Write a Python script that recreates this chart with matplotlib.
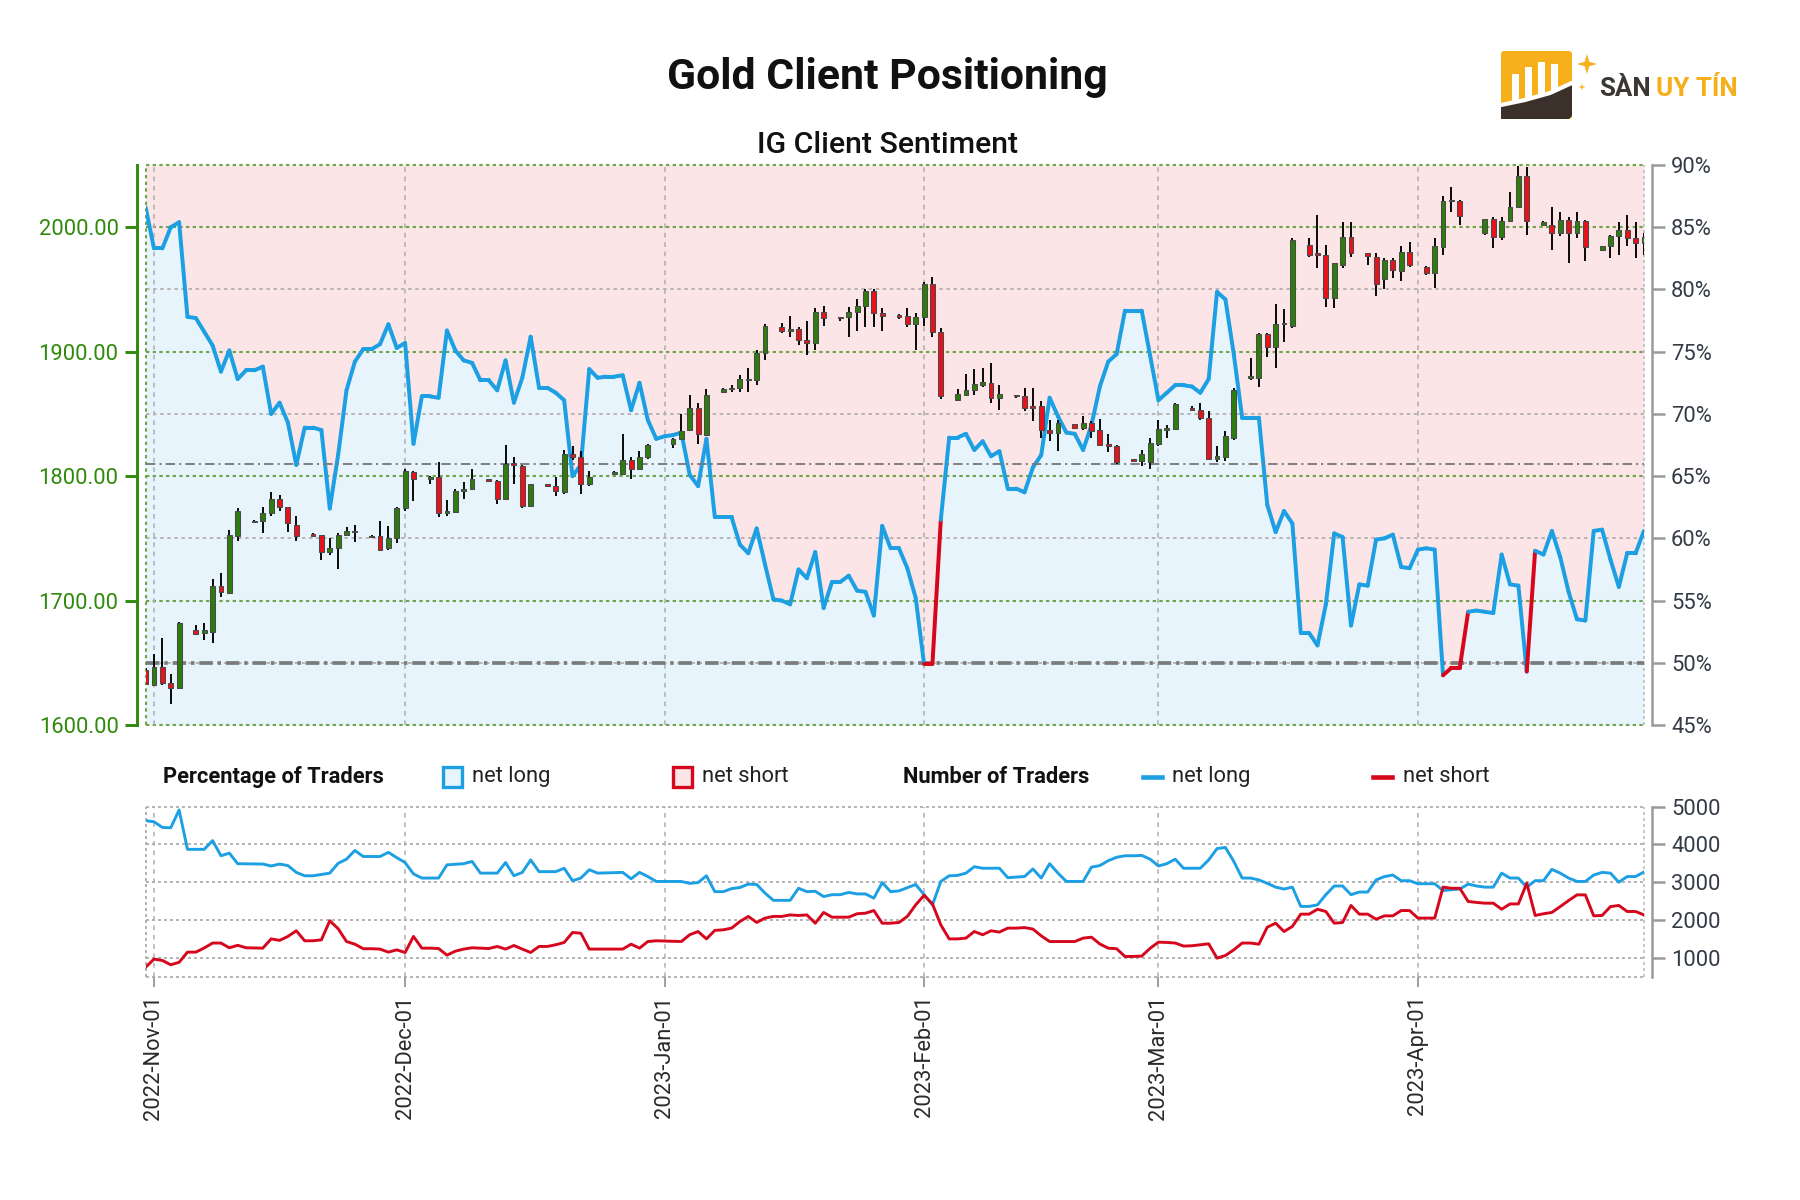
import numpy as np
import pandas as pd
import matplotlib
matplotlib.use("Agg")
import matplotlib.pyplot as plt
import matplotlib.dates as mdates
from matplotlib.collections import LineCollection
from matplotlib.patches import Rectangle, FancyBboxPatch, Polygon
from matplotlib.lines import Line2D

plt.rcParams['font.family'] = ['Roboto', 'DejaVu Sans']

# ---- data -------------------------------------------------------------
# candles: day offset from 2022-11-01 (Sunday bars included)
candle_day = [-1, 0, 1, 2, 3,
              5, 6, 7, 8, 9, 10,
              12, 13, 14, 15, 16, 17,
              19, 20, 21, 22, 23, 24,
              26, 27, 28, 29, 30, 31,
              33, 34, 35, 36, 37, 38,
              40, 41, 42, 43, 44, 45,
              47, 48, 49, 50, 51, 52,
              55, 56, 57, 58, 59,
              62, 63, 64, 65, 66,
              68, 69, 70, 71, 72, 73,
              75, 76, 77, 78, 79, 80,
              82, 83, 84, 85, 86, 87,
              89, 90, 91, 92, 93, 94,
              96, 97, 98, 99, 100, 101,
              103, 104, 105, 106, 107, 108,
              110, 111, 112, 113, 114, 115,
              117, 118, 119, 120, 121, 122,
              124, 125, 126, 127, 128, 129,
              131, 132, 133, 134, 135, 136,
              138, 139, 140, 141, 142, 143,
              145, 146, 147, 148, 149, 150,
              152, 153, 154, 155, 156,
              159, 160, 161, 162, 163, 164,
              166, 167, 168, 169, 170, 171,
              173, 174, 175, 176, 177, 178]
candle_open = [1644, 1632, 1647, 1634, 1630,
               1676, 1674, 1675, 1712, 1706, 1752,
               1764, 1764, 1770, 1782, 1775, 1761,
               1753, 1753, 1739, 1742, 1753, 1756,
               1752, 1752, 1742, 1750, 1774, 1803,
               1798, 1799, 1770, 1771, 1788, 1790,
               1798, 1796, 1782, 1810, 1808, 1776,
               1794, 1792, 1787, 1818, 1815, 1794,
               1802, 1802, 1813, 1806, 1815,
               1826, 1830, 1837, 1855, 1833,
               1868, 1870, 1871, 1877, 1877, 1899,
               1920, 1917, 1918, 1909, 1907, 1932,
               1928, 1928, 1932, 1937, 1949, 1931,
               1929, 1929, 1922, 1928, 1954, 1916,
               1861, 1865, 1869, 1873, 1875, 1863,
               1865, 1864, 1856, 1856, 1837, 1835,
               1842, 1839, 1843, 1837, 1826, 1824,
               1814, 1812, 1811, 1826, 1837, 1838,
               1855, 1853, 1847, 1814, 1815, 1831,
               1879, 1879, 1914, 1904, 1922, 1921,
               1986, 1979, 1978, 1943, 1970, 1992,
               1979, 1976, 1958, 1974, 1965, 1980,
               1968, 1963, 1984, 2021, 2021,
               1995, 2007, 1992, 2005, 2016, 2041,
               2002, 2002, 1995, 2006, 1995, 2005,
               1982, 1985, 1993, 1998, 1991, 1987]
candle_high = [1646, 1657, 1670, 1641, 1683,
               1680, 1682, 1717, 1722, 1757, 1774,
               1765, 1775, 1787, 1785, 1775, 1768,
               1754, 1753, 1750, 1754, 1759, 1761,
               1753, 1764, 1760, 1775, 1806, 1804,
               1800, 1811, 1781, 1790, 1795, 1806,
               1798, 1797, 1825, 1815, 1809, 1794,
               1794, 1799, 1821, 1824, 1820, 1804,
               1804, 1834, 1815, 1820, 1826,
               1831, 1850, 1865, 1859, 1870,
               1871, 1873, 1881, 1887, 1901, 1922,
               1923, 1929, 1920, 1925, 1935, 1937,
               1928, 1936, 1942, 1950, 1950, 1935,
               1930, 1935, 1931, 1956, 1960, 1919,
               1870, 1882, 1886, 1887, 1891, 1873,
               1865, 1871, 1871, 1860, 1845, 1845,
               1842, 1848, 1844, 1846, 1834, 1825,
               1814, 1821, 1831, 1845, 1841, 1859,
               1856, 1859, 1852, 1824, 1836, 1871,
               1895, 1915, 1915, 1938, 1934, 1991,
               1991, 2010, 1986, 1971, 2004, 2004,
               1979, 1979, 1975, 1975, 1985, 1988,
               1969, 1991, 2025, 2032, 2022,
               2007, 2008, 2008, 2028, 2049, 2048,
               2005, 2016, 2012, 2008, 2012, 2006,
               1985, 1994, 2004, 2010, 2004, 1995]
candle_low = [1632, 1632, 1632, 1617, 1630,
              1672, 1668, 1666, 1703, 1705, 1748,
              1762, 1754, 1768, 1772, 1755, 1748,
              1751, 1733, 1737, 1725, 1752, 1747,
              1750, 1740, 1741, 1746, 1772, 1780,
              1794, 1767, 1768, 1770, 1782, 1789,
              1795, 1778, 1781, 1794, 1774, 1775,
              1791, 1784, 1786, 1813, 1786, 1792,
              1801, 1801, 1798, 1805, 1814,
              1823, 1829, 1836, 1826, 1832,
              1867, 1868, 1868, 1868, 1873, 1893,
              1915, 1912, 1905, 1897, 1901, 1921,
              1925, 1912, 1917, 1920, 1920, 1917,
              1926, 1920, 1901, 1921, 1912, 1862,
              1861, 1864, 1865, 1872, 1859, 1853,
              1863, 1852, 1844, 1831, 1828, 1820,
              1839, 1837, 1831, 1824, 1819, 1810,
              1812, 1808, 1806, 1824, 1831, 1837,
              1852, 1845, 1813, 1811, 1812, 1829,
              1877, 1872, 1896, 1887, 1908, 1919,
              1976, 1967, 1936, 1935, 1967, 1976,
              1970, 1945, 1950, 1959, 1957, 1968,
              1962, 1951, 1978, 2012, 2002,
              1994, 1983, 1990, 2004, 2016, 1994,
              2001, 1982, 1993, 1971, 1991, 1973,
              1982, 1975, 1978, 1985, 1975, 1978]
candle_close = [1633, 1647, 1634, 1630, 1682,
                1673, 1676, 1712, 1707, 1753, 1772,
                1763, 1770, 1782, 1775, 1762, 1752,
                1752, 1739, 1742, 1753, 1756, 1755,
                1751, 1741, 1750, 1774, 1804, 1798,
                1799, 1770, 1772, 1788, 1790, 1798,
                1796, 1782, 1810, 1809, 1776, 1794,
                1792, 1788, 1818, 1815, 1794, 1799,
                1803, 1813, 1806, 1815, 1825,
                1830, 1836, 1855, 1834, 1865,
                1870, 1871, 1878, 1878, 1899, 1921,
                1917, 1918, 1909, 1907, 1932, 1927,
                1927, 1932, 1937, 1949, 1931, 1929,
                1928, 1922, 1928, 1954, 1916, 1864,
                1866, 1869, 1874, 1876, 1863, 1866,
                1864, 1855, 1855, 1837, 1835, 1843,
                1839, 1843, 1836, 1825, 1824, 1811,
                1812, 1818, 1827, 1838, 1839, 1858,
                1853, 1847, 1814, 1816, 1832, 1869,
                1879.5, 1914, 1904, 1922, 1923, 1990,
                1978, 1978, 1943, 1971, 1992, 1979,
                1977, 1954, 1974, 1966, 1980, 1970,
                1963, 1985, 2021, 2021, 2009,
                2007, 1992, 2005, 2016, 2041, 2005,
                2004, 1995, 2006, 1995, 2005, 1984,
                1985, 1993, 1998, 1991, 1987, 1992]

# % of traders net long, daily from 2022-10-31 to 2023-04-28
pct_long = [86.6, 83.3, 83.3, 85.0, 85.4, 77.8, 77.7, 76.6, 75.5, 73.4, 75.1,
            72.8, 73.5, 73.5, 73.8, 70.0, 70.9, 69.3, 65.9, 68.9, 68.9,
            68.7, 62.4, 66.7, 71.9, 74.2, 75.2, 75.2, 75.6, 77.2, 75.3,
            75.7, 67.6, 71.4, 71.4, 71.3, 76.7, 75.1, 74.3, 74.1, 72.7,
            72.7, 71.9, 74.3, 70.9, 72.9, 76.2, 72.1, 72.1, 71.7, 71.1,
            65.0, 65.9, 73.6, 72.9, 73.0, 73.0, 73.1, 70.3, 72.5, 69.5,
            68.0, 68.2, 68.3, 68.5, 65.1, 64.2, 68.0, 61.7, 61.7, 61.7,
            59.5, 58.8, 60.8, 57.9, 55.1, 55.0, 54.7, 57.5, 56.8, 58.9,
            54.4, 56.5, 56.5, 57.0, 55.8, 55.7, 53.8, 61.0, 59.2, 59.2,
            57.6, 55.2, 49.9, 49.9, 61.5, 68.1, 68.1, 68.4, 67.1, 67.8,
            66.6, 67.0, 64.0, 64.0, 63.7, 65.7, 66.7, 71.3, 69.8, 68.5,
            68.4, 67.1, 69.1, 72.2, 74.2, 74.8, 78.3, 78.3, 78.3, 74.7,
            71.1, 71.7, 72.3, 72.3, 72.2, 71.7, 72.8, 79.8, 79.2, 74.8,
            69.7, 69.7, 69.7, 62.7, 60.5, 62.2, 61.2, 52.4, 52.4, 51.4,
            54.7, 60.4, 60.1, 53.0, 56.3, 56.2, 59.9, 60.0, 60.3, 57.7,
            57.6, 59.1, 59.2, 59.1, 49.0, 49.6, 49.6, 54.1, 54.2, 54.1,
            54.0, 58.7, 56.3, 56.2, 49.3, 59.0, 58.7, 60.6, 58.5, 55.7,
            53.5, 53.4, 60.6, 60.7, 58.3, 56.1, 58.8, 58.8, 60.6]

# number of traders (day offset from 2022-11-01)
long_day = [-1, 0, 1, 2, 3, 4, 6, 7, 8, 9, 10, 13, 14, 15, 16, 17, 18, 19, 21, 22,
            23, 24, 25, 27, 28, 29, 30, 31, 32, 34, 35, 37, 38, 39, 41, 42, 43, 44, 45, 46,
            48, 49, 50, 51, 52, 53, 56, 57, 58, 59, 60, 63, 64, 65, 66, 67, 68, 69, 70, 71,
            72, 73, 74, 76, 77, 78, 79, 80, 81, 82, 83, 84, 85, 86, 87, 88, 89, 91, 92, 93,
            94, 95, 96, 97, 98, 99, 101, 102, 104, 105, 106, 107, 108, 109, 111, 112, 113, 114, 115, 116,
            117, 118, 119, 120, 121, 122, 123, 125, 126, 127, 128, 129, 130, 131, 132, 133, 134, 135, 136, 137,
            138, 139, 140, 141, 142, 143, 144, 145, 146, 147, 148, 149, 150, 151, 153, 154, 155, 156, 157, 158,
            159, 160, 161, 162, 163, 164, 165, 166, 167, 168, 169, 170, 171, 172, 173, 174, 175, 176, 177, 178]
long_count = [4630, 4600, 4450, 4440, 4910, 3870, 3870, 4100, 3700, 3770, 3490, 3480, 3430, 3480, 3440, 3260, 3170, 3170, 3240, 3500,
              3610, 3840, 3680, 3680, 3790, 3650, 3520, 3220, 3110, 3110, 3460, 3490, 3550, 3240, 3240, 3520, 3170, 3260, 3590, 3280,
              3280, 3370, 3040, 3110, 3330, 3240, 3260, 3090, 3260, 3150, 3020, 3020, 2970, 2990, 3170, 2750, 2750, 2830, 2860, 2950,
              2940, 2710, 2520, 2520, 2840, 2750, 2760, 2620, 2670, 2670, 2730, 2690, 2690, 2580, 2990, 2750, 2770, 2940, 2670, 2400,
              3020, 3170, 3180, 3240, 3410, 3370, 3370, 3120, 3150, 3350, 3110, 3490, 3240, 3020, 3020, 3400, 3440, 3570, 3660, 3700,
              3700, 3710, 3610, 3430, 3490, 3610, 3370, 3370, 3590, 3890, 3920, 3550, 3110, 3110, 3060, 2970, 2870, 2820, 2870, 2360,
              2360, 2400, 2670, 2900, 2900, 2670, 2740, 2740, 3060, 3150, 3190, 3040, 3040, 2960, 2960, 2780, 2800, 2820, 2950, 2900,
              2870, 2870, 3240, 3110, 3110, 2870, 3040, 3040, 3340, 3240, 3110, 3020, 3020, 3190, 3260, 3240, 3000, 3150, 3150, 3270]

short_day = [-1, 0, 1, 2, 3, 4, 5, 6, 7, 8, 9, 10, 11, 13, 14, 15, 16, 17, 18, 19,
             20, 21, 22, 23, 24, 25, 26, 27, 28, 29, 30, 31, 32, 33, 34, 35, 36, 37, 38, 39,
             40, 41, 42, 43, 44, 45, 46, 47, 48, 49, 50, 51, 52, 53, 54, 56, 57, 58, 59, 60,
             63, 64, 65, 66, 67, 68, 69, 70, 71, 72, 73, 74, 75, 76, 77, 78, 79, 80, 81, 82,
             83, 84, 85, 86, 87, 88, 89, 90, 91, 92, 93, 94, 95, 96, 97, 98, 99, 100, 101, 102,
             103, 104, 105, 106, 107, 108, 109, 110, 111, 112, 113, 114, 115, 116, 117, 118, 119, 120, 121, 122,
             123, 124, 125, 126, 127, 128, 129, 130, 131, 132, 133, 134, 135, 136, 137, 138, 139, 140, 141, 142,
             143, 144, 145, 146, 147, 148, 149, 150, 151, 152, 153, 154, 155, 156, 157, 158, 159, 160, 161, 162,
             163, 164, 165, 166, 167, 168, 169, 170, 171, 172, 173, 174, 175, 176, 177, 178]
short_count = [750, 965, 930, 815, 880, 1150, 1150, 1260, 1390, 1390, 1265, 1330, 1265, 1255, 1500, 1460, 1565, 1715, 1450, 1450,
               1475, 1980, 1770, 1430, 1360, 1240, 1240, 1230, 1150, 1210, 1140, 1565, 1255, 1255, 1245, 1070, 1175, 1230, 1265, 1255,
               1245, 1300, 1230, 1325, 1230, 1140, 1300, 1300, 1345, 1405, 1670, 1650, 1230, 1230, 1230, 1230, 1360, 1255, 1430, 1450,
               1430, 1610, 1695, 1500, 1725, 1740, 1785, 1960, 2095, 1935, 2050, 2095, 2095, 2135, 2120, 2135, 1915, 2200, 2075, 2075,
               2075, 2165, 2180, 2250, 1915, 1915, 1935, 2095, 2400, 2655, 2425, 1870, 1500, 1500, 1520, 1695, 1610, 1715, 1680, 1785,
               1785, 1800, 1760, 1580, 1430, 1430, 1430, 1430, 1520, 1545, 1365, 1255, 1240, 1035, 1035, 1045, 1250, 1414, 1406, 1390,
               1310, 1318, 1344, 1370, 990, 1060, 1210, 1390, 1390, 1360, 1810, 1915, 1695, 1830, 2155, 2155, 2285, 2225, 1915, 1935,
               2385, 2155, 2155, 2020, 2110, 2110, 2250, 2250, 2050, 2050, 2050, 2870, 2840, 2840, 2490, 2465, 2445, 2445, 2285, 2425,
               2425, 2975, 2120, 2165, 2200, 2355, 2515, 2665, 2665, 2110, 2120, 2355, 2385, 2225, 2225, 2135]

month_labels = ['2022-Nov-01', '2022-Dec-01', '2023-Jan-01',
                '2023-Feb-01', '2023-Mar-01', '2023-Apr-01']
price_ticks = [1600, 1700, 1800, 1900, 2000]
pct_ticks = [45, 50, 55, 60, 65, 70, 75, 80, 85, 90]
count_ticks = [1000, 2000, 3000, 4000, 5000]

# ---- colours ----------------------------------------------------------
BLUE = '#1c9fe3'
RED = '#d6061d'
GREEN_TXT = '#2f8a0c'
GRID_GREEN = '#6fa548'
GRID_GRAY = '#b5aeae'
VLINE = '#b0b0b0'
AX_GRAY = '#9a9a9a'
LBL = '#333b47'

base = mdates.date2num(pd.Timestamp('2022-11-01'))
x0 = mdates.date2num(pd.Timestamp('2022-10-31'))
x1 = mdates.date2num(pd.Timestamp('2023-04-28'))
months = mdates.date2num(pd.to_datetime(month_labels, format='%Y-%b-%d'))
pct_x = mdates.date2num(pd.date_range('2022-10-31', '2023-04-28', freq='D'))
pct = np.array(pct_long)

fig = plt.figure(figsize=(12, 8), dpi=150)
L, W = 0.0809, 0.8324

# ---- top panel ----------------------------------------------------------
ax = fig.add_axes([L, 0.3958, W, 0.4667])
ax2 = ax.twinx()
ax.set_zorder(ax2.get_zorder() + 1)
ax.patch.set_visible(False)
ax.set_xlim(x0, x1)
ax.set_ylim(1600, 2050)
ax2.set_ylim(45, 90)

ax2.fill_between(pct_x, 45, pct, color='#e7f4fc', lw=0, zorder=1)
ax2.fill_between(pct_x, pct, 90, color='#fbe5e6', lw=0, zorder=1)
for lvl in [50, 60, 70, 80]:
    ax2.axhline(lvl, color=GRID_GRAY, lw=0.85, ls=(0, (2, 2)), zorder=2)
for lvl in [45, 55, 65, 75, 85, 90]:
    ax2.axhline(lvl, color=GRID_GREEN, lw=1.0, ls=(0, (1.6, 1.6)), zorder=2, clip_on=False)
for m in months:
    ax2.axvline(m, color=VLINE, lw=0.75, ls=(0, (3, 3)), zorder=2)
ax2.axvline(x0, color=GRID_GREEN, lw=1.0, ls=(0, (1.6, 1.6)), zorder=2, clip_on=False)
ax2.axvline(x1, color='#c4c4c4', lw=0.9, ls=(0, (1.6, 1.6)), zorder=2, clip_on=False)
ax2.axhline(50, color='#7b7b7b', lw=1.8, ls=(0, (3.6, 1.3, 0.9, 1.3)), zorder=3)

pts = np.column_stack([pct_x, pct])
segs = np.stack([pts[:-1], pts[1:]], axis=1)
seg_cols = [RED if v < 50 else BLUE for v in pct[:-1]]
ax2.add_collection(LineCollection(segs, colors=seg_cols, linewidths=1.9,
                                  capstyle='round', joinstyle='round', zorder=4))

ax.axhline(1810, color='#7a7a7a', lw=0.9, ls=(0, (5, 2.2, 1.1, 2.2)), zorder=1)
cx = base + np.array(candle_day)
o = np.array(candle_open, float)
h = np.array(candle_high, float)
lo = np.array(candle_low, float)
c = np.array(candle_close, float)
up = c >= o
ax.vlines(cx, lo, h, color='black', lw=0.9, zorder=2)
ax.bar(cx, np.maximum(np.abs(c - o), 1.2), bottom=np.minimum(o, c), width=0.58,
       color=np.where(up, '#2e7c0e', '#e8121c'), edgecolor='#4a4a4a',
       linewidth=0.5, zorder=3)

for s in ['top', 'bottom', 'right']:
    ax.spines[s].set_visible(False)
ax.spines['left'].set_position(('outward', 4))
ax.spines['left'].set_color(GREEN_TXT)
ax.spines['left'].set_linewidth(1.4)
ax.set_yticks(price_ticks)
ax.set_yticklabels([f'{v:.2f}' for v in price_ticks])
ax.tick_params(axis='y', colors=GREEN_TXT, length=6, width=1.4, labelsize=10.5, pad=3)
ax.tick_params(axis='x', bottom=False, labelbottom=False)

for s in ['top', 'bottom', 'left']:
    ax2.spines[s].set_visible(False)
ax2.spines['right'].set_position(('outward', 4))
ax2.spines['right'].set_color(AX_GRAY)
ax2.spines['right'].set_linewidth(1.2)
ax2.set_yticks(pct_ticks)
ax2.set_yticklabels([f'{v}%' for v in pct_ticks])
ax2.tick_params(axis='y', colors=AX_GRAY, labelcolor=LBL, length=6, width=1.2,
                labelsize=10.5, pad=3)
ax2.tick_params(axis='x', bottom=False, labelbottom=False)

# ---- bottom panel -------------------------------------------------------
ax3 = fig.add_axes([L, 0.1861, W, 0.1417])
ax3.set_xlim(x0, x1)
ax3.set_ylim(500, 5000)
for lvl in [500] + count_ticks:
    ax3.axhline(lvl, color='#b2b2b2', lw=0.9, ls=(0, (1.6, 1.6)), zorder=1, clip_on=False)
for m in months:
    ax3.axvline(m, color=VLINE, lw=0.75, ls=(0, (3, 3)), zorder=1)
ax3.axvline(x0, color='#b0b0b0', lw=0.9, ls=(0, (1.6, 1.6)), zorder=1, clip_on=False)
ax3.axvline(x1, color='#c4c4c4', lw=0.9, ls=(0, (1.6, 1.6)), zorder=1, clip_on=False)
ax3.plot(base + np.array(long_day), long_count, color=BLUE, lw=1.4, zorder=3)
ax3.plot(base + np.array(short_day), short_count, color=RED, lw=1.4, zorder=3)

for s in ['top', 'bottom', 'left']:
    ax3.spines[s].set_visible(False)
ax3.spines['right'].set_position(('outward', 4))
ax3.spines['right'].set_color(AX_GRAY)
ax3.spines['right'].set_linewidth(1.2)
ax3.yaxis.tick_right()
ax3.set_yticks(count_ticks)
ax3.tick_params(axis='y', colors=AX_GRAY, labelcolor=LBL, length=6, width=1.2,
                labelsize=10.5, pad=3)
ax3.set_xticks(months)
ax3.set_xticklabels(month_labels, rotation=90)
ax3.tick_params(axis='x', colors=AX_GRAY, labelcolor='#2a2a2a', length=5, width=0.9,
                labelsize=10.5, pad=4)

# ---- titles ----------------------------------------------------------------
fig.text(0.493, 0.935, 'Gold Client Positioning', ha='center', va='center',
         fontsize=20.5, fontweight='bold', color='#111111')
fig.text(0.493, 0.879, 'IG Client Sentiment', ha='center', va='center',
         fontsize=14.5, fontweight='medium', color='#111111')

# ---- legend row ------------------------------------------------------------
ly = 0.3528
fig.text(163 / 1800, ly, 'Percentage of Traders', ha='left', va='center',
         fontsize=10.5, fontweight='bold', color='#111111')
fig.add_artist(Rectangle((443 / 1800, ly - 10 / 1200), 19 / 1800, 20 / 1200,
                         transform=fig.transFigure, facecolor='#e7f4fc',
                         edgecolor=BLUE, lw=1.6))
fig.text(472 / 1800, ly, 'net long', ha='left', va='center', fontsize=10.5, color='#222222')
fig.add_artist(Rectangle((673 / 1800, ly - 10 / 1200), 19 / 1800, 20 / 1200,
                         transform=fig.transFigure, facecolor='#fbe5e6',
                         edgecolor=RED, lw=1.6))
fig.text(702 / 1800, ly, 'net short', ha='left', va='center', fontsize=10.5, color='#222222')
fig.text(903 / 1800, ly, 'Number of Traders', ha='left', va='center',
         fontsize=10.5, fontweight='bold', color='#111111')
fig.add_artist(Line2D([1143 / 1800, 1162 / 1800], [ly, ly], transform=fig.transFigure,
                      color=BLUE, lw=2.2))
fig.text(1172 / 1800, ly, 'net long', ha='left', va='center', fontsize=10.5, color='#222222')
fig.add_artist(Line2D([1373 / 1800, 1392 / 1800], [ly, ly], transform=fig.transFigure,
                      color=RED, lw=2.2))
fig.text(1403 / 1800, ly, 'net short', ha='left', va='center', fontsize=10.5, color='#222222')

# ---- logo ------------------------------------------------------------------
lg = fig.add_axes([1490 / 1800, 1 - 125 / 1200, 270 / 1800, 80 / 1200])
lg.set_xlim(1490, 1760)
lg.set_ylim(125, 45)
lg.axis('off')
lg.add_patch(FancyBboxPatch((1501, 51), 71, 68, boxstyle='round,pad=0,rounding_size=3',
                            fc='#f7b01b', ec='none'))
lg.add_patch(Polygon([(1501, 119), (1501, 106), (1525, 101), (1550, 94), (1572, 84),
                      (1572, 116), (1569, 119)], closed=True, fc='#3b302a', ec='none'))
lg.plot([1501, 1525, 1550, 1574], [105, 100, 93, 82], color='white', lw=2.0,
        solid_capstyle='round')
for bx, top, bot in [(1512, 74, 101), (1525, 67, 98), (1538, 62, 95), (1551, 64, 90)]:
    lg.add_patch(Rectangle((bx, top), 7, bot - top, fc='white', ec='none'))


def star(cxs, cys, r):
    ang = np.deg2rad(np.arange(0, 360, 45))
    rad = np.where(np.arange(8) % 2 == 0, r, r * 0.32)
    return np.column_stack([cxs + rad * np.sin(ang), cys - rad * np.cos(ang)])


lg.add_patch(Polygon(star(1587, 64, 10), closed=True, fc='#f7b01b', ec='none'))
lg.add_patch(Polygon(star(1582, 87, 3.5), closed=True, fc='#f7b01b', ec='none'))
t1 = lg.text(1599, 89, 'SÀN', ha='left', va='center', fontsize=12.5,
             fontweight='bold', color='#3b3834')
fig.canvas.draw()
bb = t1.get_window_extent().transformed(lg.transData.inverted())
lg.text(bb.x1 + 5, 89, 'UY TÍN', ha='left', va='center', fontsize=12.5,
        fontweight='bold', color='#f5af1a')

fig.savefig('out.png', dpi=150)
